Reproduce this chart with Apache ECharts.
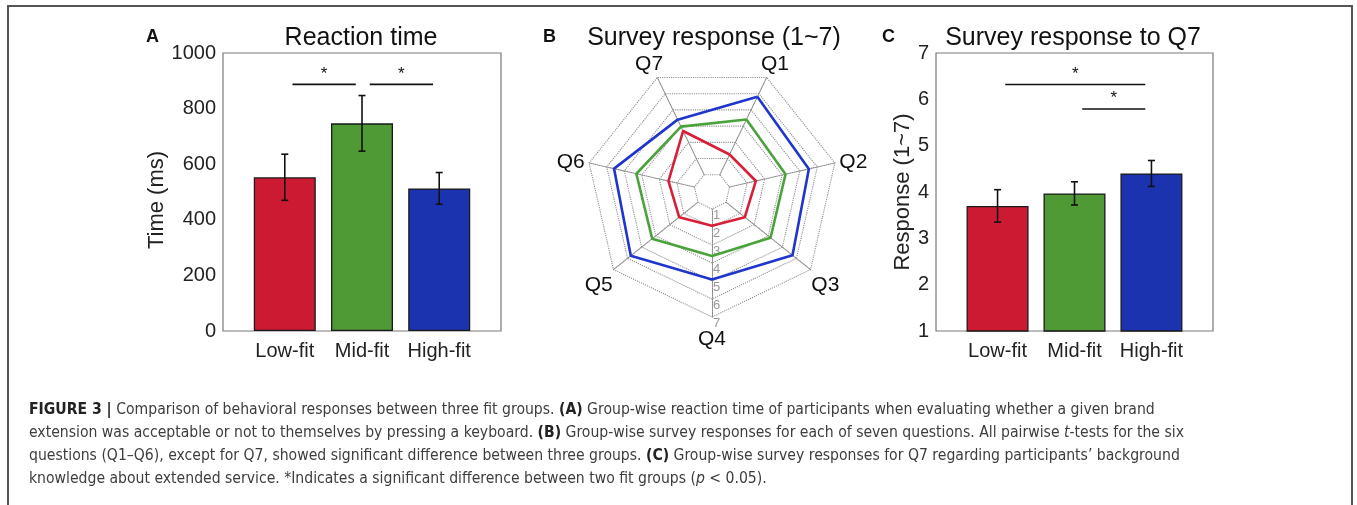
<!DOCTYPE html>
<html>
<head>
<meta charset="utf-8">
<script src="https://cdn.jsdelivr.net/npm/echarts@6/dist/echarts.min.js"></script>
<style>
  html, body { margin: 0; padding: 0; background: #fff; }
  #chart { width: 1357px; height: 505px; }
</style>
</head>
<body>
<div id="chart"></div>
<script>
// ---- data ----
const groups = ['Low-fit', 'Mid-fit', 'High-fit'];

// (A) reaction time, ms
const rtMean = [553, 747, 513];
const rtErr = [83, 100, 57];
const rtSigPairs = [[1, 2], [2, 3]];

// (C) response to Q7, 1~7
const q7Mean = [3.70, 3.97, 4.40];
const q7Err = [0.35, 0.25, 0.28];
const q7SigPairs = [[1, 3], [2, 3]];

// (B) survey responses per question, 1~7
const questions = ['Q1', 'Q2', 'Q3', 'Q4', 'Q5', 'Q6', 'Q7'];
const surveyLow = [2.25, 2.50, 2.33, 1.93, 2.33, 2.48, 3.70];
const surveyMid = [4.41, 4.19, 4.16, 3.61, 4.25, 4.31, 3.97];
const surveyHigh = [5.81, 5.52, 5.72, 4.91, 5.77, 5.58, 4.40];
const radarTicks = ['1', '2', '3', '4', '5', '6', '7'];

// ---- styles / layout ----
const FONT = "'Liberation Sans', Arial, Helvetica, sans-serif";
const barColors = ['#cc1a33', '#4f9a35', '#1c33b0'];
const lineColors = ['#d81f38', '#4aa23a', '#1f35cc'];
const rtSigLevels = [887, 887];
const q7SigLevels = [6.32, 5.79];

const chart = echarts.init(document.getElementById('chart'));

function barData(means) {
  return means.map((v, i) => ({ value: [i + 1, v], itemStyle: { color: barColors[i] } }));
}
function errData(means, errs) {
  return means.map((v, i) => [i + 1, v - errs[i], v + errs[i]]);
}
function sigData(pairs, levels) {
  return pairs.map((p, i) => [p[0] + 0.1, p[1] - 0.08, levels[i]]);
}

function renderErr(params, api) {
  const x = api.value(0);
  const lo = api.coord([x, api.value(1)]);
  const hi = api.coord([x, api.value(2)]);
  const cap = 3.5;
  const st = { stroke: '#111', lineWidth: 1.6 };
  return {
    type: 'group',
    children: [
      { type: 'line', shape: { x1: lo[0], y1: lo[1], x2: hi[0], y2: hi[1] }, style: st },
      { type: 'line', shape: { x1: lo[0] - cap, y1: lo[1], x2: lo[0] + cap, y2: lo[1] }, style: st },
      { type: 'line', shape: { x1: hi[0] - cap, y1: hi[1], x2: hi[0] + cap, y2: hi[1] }, style: st }
    ]
  };
}

function renderSig(params, api) {
  const a = api.coord([api.value(0), api.value(2)]);
  const b = api.coord([api.value(1), api.value(2)]);
  return {
    type: 'group',
    children: [
      { type: 'line', shape: { x1: a[0], y1: a[1], x2: b[0], y2: b[1] }, style: { stroke: '#111', lineWidth: 1.6 } },
      { type: 'text', style: { text: '*', x: (a[0] + b[0]) / 2, y: a[1] - 2, align: 'center', verticalAlign: 'bottom',
        font: '17px ' + FONT, fill: '#111' } }
    ]
  };
}

// radar axes run counter-clockwise from startAngle: Q1, Q7, Q6, ..., Q2
const radarOrder = [0, 6, 5, 4, 3, 2, 1];
const reorder = arr => radarOrder.map(i => arr[i]);

const xCommon = {
  type: 'value', min: 0.2, max: 3.8,
  axisLine: { show: false }, axisTick: { show: false }, splitLine: { show: false },
  axisLabel: {
    customValues: [1, 2, 3], formatter: v => groups[Math.round(v) - 1],
    fontSize: 20, color: '#222', margin: 10, fontFamily: FONT
  }
};
const nameRich = {
  n: { fontSize: 22, color: '#222', fontFamily: FONT, padding: [0, 16, 0, 0] },
  m: { fontSize: 22, color: '#222', fontFamily: FONT }
};
const yCommon = {
  type: 'value', axisLine: { show: false }, axisTick: { show: false }, splitLine: { show: false },
  nameLocation: 'middle', nameTextStyle: { fontSize: 22, color: '#222', fontFamily: FONT, rich: nameRich },
  axisLabel: { fontSize: 20, color: '#222', margin: 7, fontFamily: FONT, formatter: v => String(v) }
};

const caption = [
  '{b|FIGURE 3 |} Comparison of behavioral responses between three fit groups. {b|(A)} Group-wise reaction time of participants when evaluating whether a given brand',
  'extension was acceptable or not to themselves by pressing a keyboard. {b|(B)} Group-wise survey responses for each of seven questions. All pairwise {i|t}-tests for the six',
  'questions (Q1\u2013Q6), except for Q7, showed significant difference between three groups. {b|(C)} Group-wise survey responses for Q7 regarding participants\u2019 background',
  'knowledge about extended service. *Indicates a significant difference between two fit groups ({i|p} < 0.05).'
];
const CAP_FONT = "'DejaVu Sans Condensed', 'Liberation Sans', sans-serif";
const capSize = 15.6;

const graphics = [
  { type: 'polyline', shape: { points: [[8, 505], [8, 6], [1352, 6], [1352, 505]] },
    style: { stroke: '#555', lineWidth: 2, fill: null }, silent: true },
  { type: 'text', style: { text: 'A', x: 146, y: 37, verticalAlign: 'middle', font: 'bold 18px ' + FONT, fill: '#111' } },
  { type: 'text', style: { text: 'B', x: 543, y: 37, verticalAlign: 'middle', font: 'bold 18px ' + FONT, fill: '#111' } },
  { type: 'text', style: { text: 'C', x: 882, y: 37, verticalAlign: 'middle', font: 'bold 18px ' + FONT, fill: '#111' } }
];
caption.forEach((line, i) => {
  graphics.push({
    type: 'text',
    style: {
      text: line, x: 29, y: 410 + i * 23, verticalAlign: 'middle',
      fontSize: capSize, fontFamily: CAP_FONT, fill: '#3d3d3d',
      rich: {
        b: { fontWeight: 'bold', fontSize: capSize, fontFamily: CAP_FONT, fill: '#222' },
        i: { fontStyle: 'italic', fontSize: capSize, fontFamily: CAP_FONT, fill: '#3d3d3d' }
      }
    }
  });
});

const titleStyle = { fontSize: 25, fontWeight: 'normal', color: '#111', fontFamily: FONT };

const option = {
  animation: false,
  backgroundColor: '#fff',
  textStyle: { fontFamily: FONT },
  title: [
    { text: 'Reaction time', left: 356, top: 21, textAlign: 'center', textStyle: titleStyle },
    { text: 'Survey response (1~7)', left: 709, top: 21, textAlign: 'center', textStyle: titleStyle },
    { text: 'Survey response to Q7', left: 1068, top: 21, textAlign: 'center', textStyle: titleStyle }
  ],
  grid: [
    { left: 223, top: 53, width: 278, height: 278, show: true, borderColor: '#7a7a7a', borderWidth: 1.2 },
    { left: 936, top: 53, width: 277, height: 278, show: true, borderColor: '#7a7a7a', borderWidth: 1.2 },
    { left: 712, top: 191, width: 20, height: 126 }
  ],
  xAxis: [
    Object.assign({ gridIndex: 0 }, xCommon),
    Object.assign({ gridIndex: 1 }, xCommon),
    { gridIndex: 2, type: 'value', show: false }
  ],
  yAxis: [
    Object.assign({}, yCommon, { gridIndex: 0, min: 0, max: 1000, interval: 200, name: '{n|Time (ms)}', nameGap: 53 }),
    Object.assign({}, yCommon, { gridIndex: 1, min: 1, max: 7, interval: 1, name: '{m|Response (1~7)}', nameGap: 22 }),
    { gridIndex: 2, type: 'category', data: ['0'].concat(radarTicks), inverse: true, boundaryGap: false,
      axisLine: { show: false }, axisTick: { show: false }, splitLine: { show: false },
      axisLabel: { inside: true, margin: 1, verticalAlign: 'top', fontSize: 13, color: '#999',
        formatter: v => (v === '0' ? '' : v) } }
  ],
  radar: {
    center: [712, 191],
    radius: [18, 126],
    startAngle: 90 - 180 / 7,
    splitNumber: 6,
    shape: 'polygon',
    nameGap: 19,
    indicator: reorder(questions).map(q => ({ name: q, min: 1, max: 7 })),
    axisName: {
      color: '#111', fontSize: 21, fontFamily: FONT, align: 'center', verticalAlign: 'middle',
      formatter: '{q|{value}}',
      rich: { q: { color: '#111', fontSize: 21, fontFamily: FONT, padding: [7, 0, 0, 0] } }
    },
    splitLine: { lineStyle: { type: 'dotted', color: '#8a8a8a', width: 1.1 } },
    splitArea: { show: false },
    axisLine: { lineStyle: { type: 'dotted', color: '#8a8a8a', width: 1.1 } },
    axisTick: { show: false },
    axisLabel: { show: false }
  },
  series: [
    { type: 'bar', xAxisIndex: 0, yAxisIndex: 0, barWidth: 62, data: barData(rtMean),
      itemStyle: { borderColor: '#1a1a1a', borderWidth: 1.3 } },
    { type: 'custom', xAxisIndex: 0, yAxisIndex: 0, z: 5, renderItem: renderErr,
      encode: { x: 0, y: [1, 2] }, data: errData(rtMean, rtErr) },
    { type: 'custom', xAxisIndex: 0, yAxisIndex: 0, z: 5, renderItem: renderSig,
      encode: { x: [0, 1], y: 2 }, data: sigData(rtSigPairs, rtSigLevels) },

    { type: 'bar', xAxisIndex: 1, yAxisIndex: 1, barWidth: 62, data: barData(q7Mean),
      itemStyle: { borderColor: '#1a1a1a', borderWidth: 1.3 } },
    { type: 'custom', xAxisIndex: 1, yAxisIndex: 1, z: 5, renderItem: renderErr,
      encode: { x: 0, y: [1, 2] }, data: errData(q7Mean, q7Err) },
    { type: 'custom', xAxisIndex: 1, yAxisIndex: 1, z: 5, renderItem: renderSig,
      encode: { x: [0, 1], y: 2 }, data: sigData(q7SigPairs, q7SigLevels) },

    { type: 'radar', symbol: 'none',
      data: [
        { name: groups[0], value: reorder(surveyLow), lineStyle: { color: lineColors[0], width: 2.6 } },
        { name: groups[1], value: reorder(surveyMid), lineStyle: { color: lineColors[1], width: 2.6 } },
        { name: groups[2], value: reorder(surveyHigh), lineStyle: { color: lineColors[2], width: 2.6 } }
      ] }
  ],
  graphic: graphics
};

chart.setOption(option);
</script>
</body>
</html>
